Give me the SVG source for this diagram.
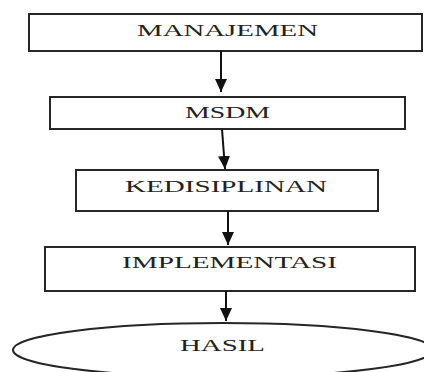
<svg xmlns="http://www.w3.org/2000/svg" width="424" height="372" viewBox="0 0 424 372">
<style>
.box{fill:#fff;stroke:#262626;stroke-width:2}
.lbl{font-family:"Liberation Serif","Times New Roman",serif;font-size:16.5px;fill:#222;text-anchor:start}
.con{stroke:#111;stroke-width:2;fill:none}
</style>
<defs>
<marker id="ah" markerUnits="userSpaceOnUse" markerWidth="14" markerHeight="12" viewBox="0 0 14 12" refX="13" refY="6" orient="auto">
<path d="M0,0 L13,6 L0,12 Z" fill="#111"/>
</marker>
</defs>
<rect width="424" height="372" fill="#fff"/>
<g id="n1">
<rect class="box" x="29" y="14" width="393" height="37"/>
<text class="lbl" x="137" y="36" textLength="181" lengthAdjust="spacingAndGlyphs">MANAJEMEN</text>
</g>
<g id="n2">
<rect class="box" x="50" y="97" width="355" height="32"/>
<text class="lbl" x="185" y="118" textLength="85" lengthAdjust="spacingAndGlyphs">MSDM</text>
</g>
<g id="n3">
<rect class="box" x="76" y="170" width="302" height="41"/>
<text class="lbl" x="125" y="192" textLength="202" lengthAdjust="spacingAndGlyphs">KEDISIPLINAN</text>
</g>
<g id="n4">
<rect class="box" x="45" y="247" width="370" height="44"/>
<text class="lbl" x="122" y="268" textLength="215" lengthAdjust="spacingAndGlyphs">IMPLEMENTASI</text>
</g>
<g id="n5">
<ellipse class="box" cx="223" cy="350" rx="210" ry="27"/>
<text class="lbl" x="180" y="351" textLength="85" lengthAdjust="spacingAndGlyphs">HASIL</text>
</g>
<g id="connectors">
<line class="con" x1="221" y1="51" x2="221" y2="92" marker-end="url(#ah)"/>
<line class="con" x1="222" y1="129" x2="225" y2="169" marker-end="url(#ah)"/>
<line class="con" x1="228" y1="211" x2="228" y2="245" marker-end="url(#ah)"/>
<line class="con" x1="226" y1="291" x2="226" y2="321" marker-end="url(#ah)"/>
</g>
</svg>
